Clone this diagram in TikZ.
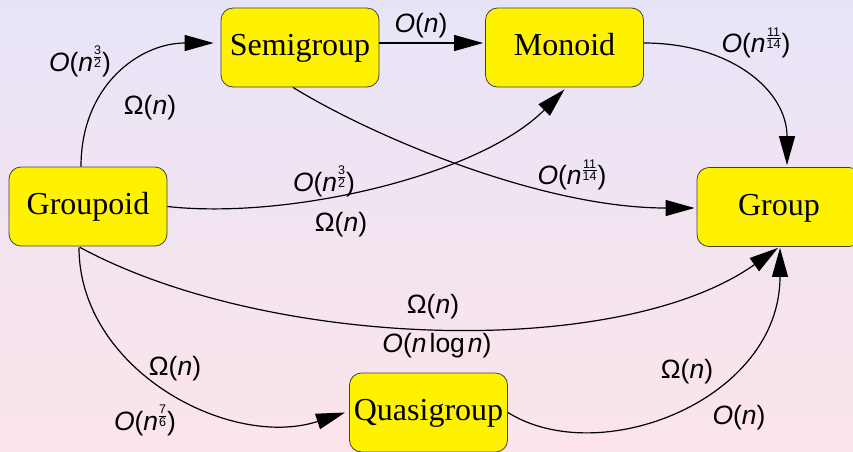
\documentclass[tikz,border=0pt]{standalone}
\usepackage{fontspec}
\setmainfont{Liberation Serif}
\newfontfamily\labfont{Liberation Sans}
\usetikzlibrary{arrows.meta,calc}
\definecolor{bgtop}{RGB}{232,228,248}
\definecolor{bgbot}{RGB}{252,228,234}
\newcommand\fr[2]{\kern1pt\smash{\raisebox{4pt}{\fontsize{12.5}{12.5}\selectfont\vbox{\halign{\hfil##\hfil\cr#1\cr\noalign{\kern1.8pt\hrule height0.8pt\kern1.6pt}#2\cr}}}}\kern1pt}
\newcommand\On[1]{\textit{O}(\textit{n}#1)}
\newcommand\Om{Ω(\textit{n})}
\begin{document}
\begin{tikzpicture}[x=1pt,y=-1pt,
  algnode/.style={draw=black!75,line width=0.8pt,fill=yellow,rounded corners=12pt,
    minimum width=158pt,minimum height=79pt,inner sep=0pt,
    font=\fontsize{32}{37}\selectfont,text height=22pt,text depth=6pt},
  lbl/.style={font=\labfont\fontsize{26.5}{31}\selectfont,inner sep=0pt,
    text height=19.3pt,text depth=5.6pt},
  conn/.style={line width=1.2pt,-{Triangle[length=29pt,width=16pt]}}]
\useasboundingbox (0,0) rectangle (853,451);
\shade[top color=bgtop,bottom color=bgbot] (0,0) rectangle (853,451);

\node[algnode] (Semigroup) at (300,47.5) {Semigroup};
\node[algnode] (Monoid) at (564.5,47.5) {Monoid};
\node[algnode] (Groupoid) at (88,206.5) {Groupoid};
\node[algnode,minimum width=164pt] (Group) at (779,207) {Group};
\node[algnode] (Quasigroup) at (428.5,412.5) {Quasigroup};

\draw[conn] ($(Groupoid.north)+(-7,0)$) .. controls (81,85) and (140,43) .. ($(Semigroup.west)+(-7,-4.5)$);
\draw[conn] ($(Semigroup.east)+(0,-4.5)$) -- ($(Monoid.west)+(-2,-4.5)$);
\draw[conn] ($(Monoid.east)+(0,-4.5)$) .. controls (730,43) and (787,90) .. ($(Group.north)+(8,-2)$);
\draw[conn] ($(Semigroup.south)+(-7,0)$) .. controls (370,135) and (540,208) .. ($(Group.west)+(-2,1)$);
\draw[conn] (Groupoid.east) .. controls (290,220) and (480,175) .. ($(Monoid.south)+(0,2)$);
\draw[conn] ($(Groupoid.south)+(-8,1)$) .. controls (270,350) and (620,360) .. ($(Group.south)+(-1,1)$);
\draw[conn] ($(Groupoid.south)+(-9,1)$) .. controls (79,370) and (230,450) .. ($(Quasigroup.west)+(-4,0)$);
\draw[conn] (Quasigroup.east) .. controls (600,470) and (780,400) .. ($(Group.south)+(1,1)$);

\node[lbl] (l1a) at (80,65) {\On{\fr{3}{2}}};
\node[lbl] (l1b) at (150,108) {\Om};
\node[lbl] (l2) at (421,26) {\On{}};
\node[lbl] (l3) at (756,46) {\On{\fr{11}{14}}};
\node[lbl] (l4) at (572,178) {\On{\fr{11}{14}}};
\node[lbl] (l5a) at (324,185) {\On{\fr{3}{2}}};
\node[lbl] (l5b) at (341,225) {\Om};
\node[lbl] (l6a) at (433,307) {\Om};
\node[lbl] (l6b) at (437,346) {\textit{O}(\textit{n}\kern3pt log\kern3pt\textit{n})};
\node[lbl] (l7a) at (175,369) {\Om};
\node[lbl] (l7b) at (145,424) {\On{\fr{7}{6}}};
\node[lbl] (l8a) at (687,372) {\Om};
\node[lbl] (l8b) at (739,418) {\On{}};
\end{tikzpicture}
\end{document}
